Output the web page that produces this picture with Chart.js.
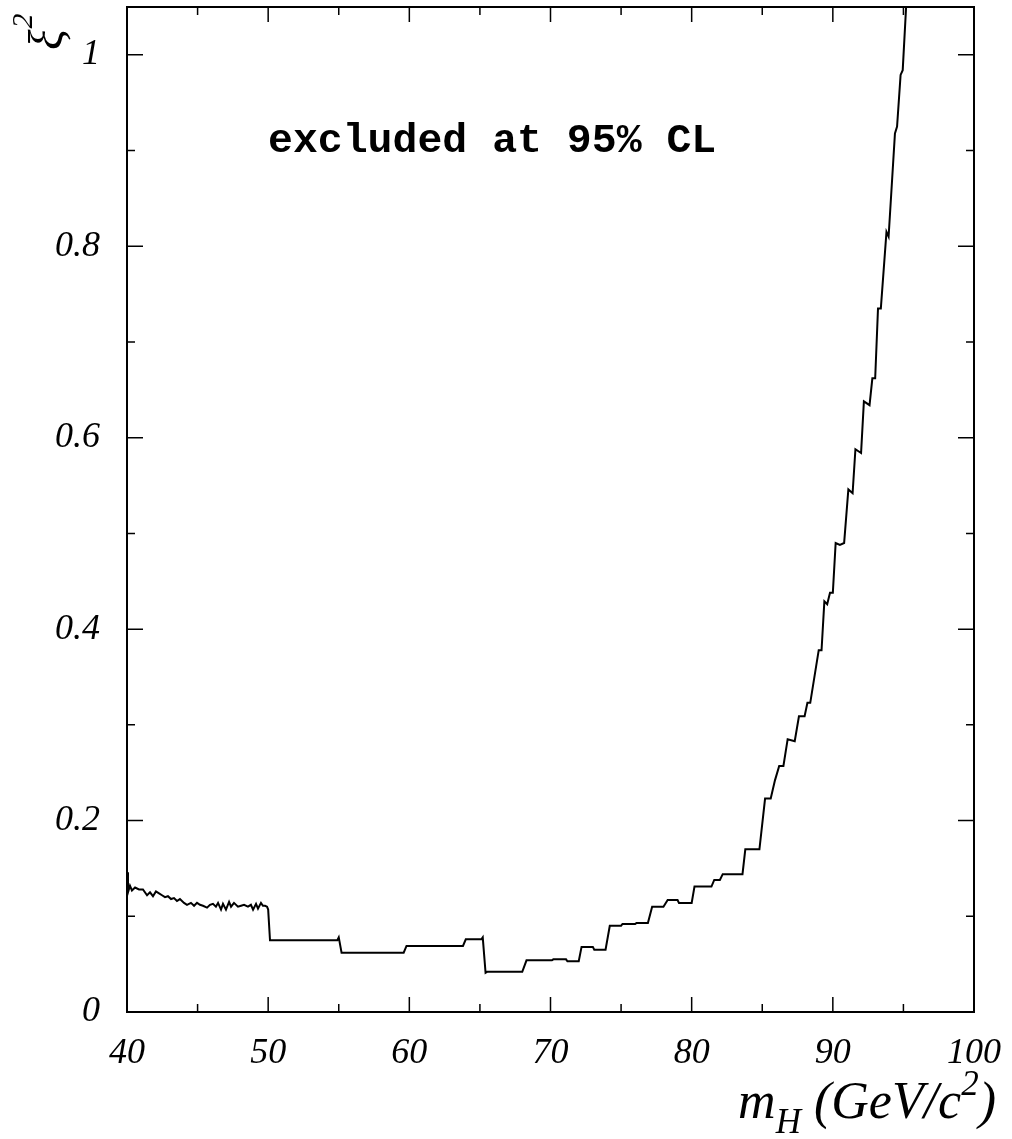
<!DOCTYPE html>
<html>
<head>
<meta charset="utf-8">
<script src="https://cdn.jsdelivr.net/npm/chart.js@4.4.1/dist/chart.umd.min.js"></script>
<style>
html, body { margin: 0; padding: 0; background: #fff; }
canvas { display: block; }
</style>
</head>
<body>
<canvas id="limitChart" width="1012" height="1139"></canvas>
<script>
// Higgs mass (GeV/c^2) and excluded xi^2 at 95% CL
const massValues = [
  40.0, 40.07, 40.21, 40.35, 40.57, 40.85, 41.13, 41.42, 41.63, 41.84,
  42.05, 42.27, 42.48, 42.69, 42.90, 43.12, 43.33, 43.54, 43.75, 44.04,
  44.25, 44.53, 44.75, 44.96, 45.17, 45.38, 45.67, 45.88, 46.09, 46.30,
  46.45, 46.66, 46.80, 47.01, 47.23, 47.37, 47.58, 47.86, 48.08, 48.29,
  48.57, 48.78, 48.93, 49.14, 49.28, 49.49, 49.63, 49.78, 49.92, 50.0,
  50.13, 54.9, 55.0, 55.2, 59.6, 59.8, 63.8, 64.0, 65.1, 65.2,
  65.4, 65.5, 68.0, 68.3, 70.1, 70.2, 71.1, 71.2, 72.0, 72.2,
  73.0, 73.1, 73.9, 74.2, 75.0, 75.1, 76.0, 76.1, 76.9, 77.2,
  78.0, 78.3, 79.0, 79.1, 80.0, 80.2, 81.4, 81.6, 82.0, 82.2,
  83.6, 83.8, 84.8, 85.2, 85.6, 85.9, 86.2, 86.5, 86.8, 87.3,
  87.6, 88.0, 88.2, 88.4, 89.0, 89.2, 89.4, 89.6, 89.8, 90.0,
  90.2, 90.5, 90.8, 91.1, 91.4, 91.6, 92.0, 92.2, 92.6, 92.8,
  93.0, 93.2, 93.4, 93.8, 93.95, 94.4, 94.55, 94.8, 94.95, 95.3
];
const xiLimit = [
  0.146, 0.125, 0.132, 0.127, 0.130, 0.128, 0.128, 0.122, 0.125, 0.121,
  0.126, 0.124, 0.122, 0.120, 0.121, 0.118, 0.119, 0.116, 0.118, 0.114,
  0.112, 0.114, 0.111, 0.114, 0.112, 0.111, 0.109, 0.112, 0.113, 0.110,
  0.114, 0.107, 0.113, 0.107, 0.115, 0.110, 0.114, 0.110, 0.111, 0.112,
  0.110, 0.112, 0.107, 0.113, 0.108, 0.114, 0.111, 0.111, 0.110, 0.107,
  0.075, 0.075, 0.078, 0.062, 0.062, 0.069, 0.069, 0.076, 0.076, 0.078,
  0.041, 0.042, 0.042, 0.054, 0.054, 0.055, 0.055, 0.053, 0.053, 0.068,
  0.068, 0.065, 0.065, 0.090, 0.090, 0.092, 0.092, 0.093, 0.093, 0.110,
  0.110, 0.117, 0.117, 0.114, 0.114, 0.131, 0.131, 0.138, 0.138, 0.144,
  0.144, 0.170, 0.170, 0.223, 0.223, 0.242, 0.257, 0.257, 0.285, 0.283,
  0.309, 0.309, 0.323, 0.323, 0.378, 0.378, 0.429, 0.426, 0.438, 0.438,
  0.490, 0.488, 0.490, 0.546, 0.542, 0.588, 0.584, 0.638, 0.634, 0.662,
  0.662, 0.735, 0.735, 0.815, 0.810, 0.918, 0.925, 0.979, 0.984, 1.08
];
const xTickValues = [40, 50, 60, 70, 80, 90, 100];
const yTickValues = [0, 0.2, 0.4, 0.6, 0.8, 1];
const yTickLabels = ['0', '0.2', '0.4', '0.6', '0.8', '1'];

const serif = '"Liberation Serif", "Times New Roman", serif';

// frame, inward ticks on all four sides and the texts
const framePlugin = {
  id: 'frame',
  afterDraw(chart) {
    const { ctx, chartArea: a, scales: { x, y } } = chart;
    ctx.save();
    ctx.strokeStyle = '#000';
    ctx.lineWidth = 2;
    ctx.strokeRect(a.left, a.top, a.right - a.left, a.bottom - a.top);

    ctx.lineWidth = 1.5;
    ctx.beginPath();
    for (let v = 40; v <= 100; v += 5) {
      const px = x.getPixelForValue(v);
      const len = v % 10 === 0 ? 15 : 8;
      ctx.moveTo(px, a.bottom); ctx.lineTo(px, a.bottom - len);
      ctx.moveTo(px, a.top); ctx.lineTo(px, a.top + len);
    }
    for (let i = 0; i <= 10; i++) {
      const py = y.getPixelForValue(i / 10);
      const len = i % 2 === 0 ? 16 : 8;
      ctx.moveTo(a.left, py); ctx.lineTo(a.left + len, py);
      ctx.moveTo(a.right, py); ctx.lineTo(a.right - len, py);
    }
    ctx.stroke();

    ctx.fillStyle = '#000';
    ctx.textBaseline = 'alphabetic';

    // annotation
    ctx.font = 'bold 41.5px "Liberation Mono", "Courier New", monospace';
    ctx.textAlign = 'left';
    ctx.fillText('excluded at 95% CL', 268, 152);

    // x title: m_H (GeV/c^2), ending a bit past the axis
    const big = 'italic 52px ' + serif;
    const small = 'italic 35px ' + serif;
    const parts = [
      ['m', big, 0], ['H', small, 15], [' (GeV/c', big, 0], ['2', small, -23], [')', big, 0]
    ];
    let w = 0;
    parts.forEach(p => { ctx.font = p[1]; w += ctx.measureText(p[0]).width; });
    let cx = 996 - w;
    parts.forEach(p => {
      ctx.font = p[1];
      ctx.fillText(p[0], cx, 1118 + p[2]);
      cx += ctx.measureText(p[0]).width;
    });

    // y title: xi^2, rotated
    ctx.translate(62, 50);
    ctx.rotate(-Math.PI / 2);
    ctx.font = 'italic 48px ' + serif;
    ctx.fillText('ξ', 0, 0);
    const xw = ctx.measureText('ξ').width;
    ctx.font = 'italic 30px ' + serif;
    ctx.fillText('2', xw + 1, -30);
    ctx.restore();
  }
};

new Chart(document.getElementById('limitChart'), {
  type: 'scatter',
  data: {
    datasets: [{
      data: massValues.map((m, i) => ({ x: m, y: xiLimit[i] })),
      showLine: true,
      borderColor: '#000',
      borderWidth: 2,
      pointRadius: 0,
      tension: 0
    }]
  },
  options: {
    responsive: false,
    animation: false,
    devicePixelRatio: 1,
    layout: { padding: { top: 7, right: 38, left: 0, bottom: 0 } },
    plugins: { legend: { display: false }, tooltip: { enabled: false } },
    scales: {
      x: {
        type: 'linear',
        min: 40,
        max: 100,
        grid: { display: false, drawTicks: false },
        border: { display: false },
        afterFit: s => { s.height = 127; s.paddingLeft = 0; s.paddingRight = 0; },
        afterBuildTicks: s => { s.ticks = xTickValues.map(v => ({ value: v })); },
        ticks: {
          padding: 20,
          maxRotation: 0,
          autoSkip: false,
          color: '#000',
          font: { family: serif, style: 'italic', size: 36 },
          callback: v => String(v)
        }
      },
      y: {
        type: 'linear',
        min: 0,
        max: 1.05,
        grid: { display: false, drawTicks: false },
        border: { display: false },
        afterFit: s => { s.width = 127; s.paddingTop = 0; s.paddingBottom = 0; },
        afterBuildTicks: s => { s.ticks = yTickValues.map(v => ({ value: v })); },
        ticks: {
          padding: 27,
          autoSkip: false,
          color: '#000',
          font: { family: serif, style: 'italic', size: 36 },
          callback: v => yTickLabels[yTickValues.indexOf(v)] ?? ''
        }
      }
    }
  },
  plugins: [framePlugin]
});
</script>
</body>
</html>
